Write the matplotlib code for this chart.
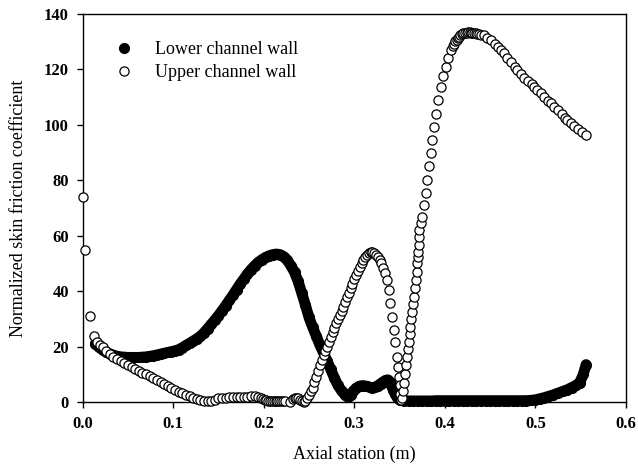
import matplotlib
matplotlib.use("Agg")
import matplotlib.pyplot as plt

# ---------------------------------------------
# Data (x in m, y = normalized Cf)
# ---------------------------------------------
lower_x = [
    0.014, 0.018, 0.022, 0.026, 0.030, 0.034, 0.038, 0.042, 0.046, 0.050,
    0.054, 0.058, 0.062, 0.066, 0.070, 0.074, 0.078, 0.082, 0.086, 0.090,
    0.094, 0.098, 0.102, 0.106, 0.110, 0.114, 0.118, 0.122, 0.126, 0.130,
    0.134, 0.138, 0.142, 0.146, 0.150, 0.154, 0.158, 0.162, 0.166, 0.170,
    0.174, 0.178, 0.182, 0.186, 0.190, 0.194, 0.198, 0.202, 0.206, 0.210,
    0.214, 0.218, 0.222, 0.226, 0.230, 0.234, 0.238, 0.242, 0.246, 0.250,
    0.254, 0.258, 0.262, 0.266, 0.270, 0.274, 0.278, 0.282, 0.286, 0.290,
    0.293, 0.296, 0.299, 0.302, 0.305, 0.308, 0.311, 0.314, 0.317, 0.320,
    0.323, 0.326, 0.329, 0.332, 0.335, 0.337, 0.339, 0.341, 0.343, 0.345,
    0.347, 0.349, 0.351, 0.355, 0.360, 0.365, 0.370, 0.375, 0.380, 0.385,
    0.390, 0.395, 0.400, 0.405, 0.410, 0.415, 0.420, 0.425, 0.430, 0.435,
    0.440, 0.445, 0.450, 0.455, 0.460, 0.465, 0.470, 0.475, 0.480, 0.485,
    0.490, 0.495, 0.500, 0.505, 0.510, 0.515, 0.520, 0.525, 0.530, 0.535,
    0.540, 0.545, 0.549, 0.553, 0.556,
]
lower_cf = [
    21.0, 19.8, 18.8, 18.0, 17.4, 16.9, 16.5, 16.3, 16.2, 16.1,
    16.1, 16.1, 16.1, 16.2, 16.3, 16.5, 16.7, 17.0, 17.3, 17.6,
    17.9, 18.2, 18.5, 18.9, 19.6, 20.4, 21.2, 22.0, 22.8, 23.7,
    25.0, 26.5, 28.0, 29.6, 31.2, 33.0, 34.8, 36.7, 38.6, 40.6,
    42.6, 44.4, 46.2, 47.8, 49.2, 50.4, 51.4, 52.2, 52.8, 53.2,
    53.4, 53.2, 52.5, 51.2, 49.2, 46.8, 43.5, 39.3, 35.0, 30.5,
    27.0, 23.8, 20.6, 17.7, 14.8, 11.8, 8.7, 6.0, 4.0, 2.5,
    1.8, 2.6, 4.0, 5.0, 5.6, 5.9, 5.9, 5.6, 5.3, 5.2,
    5.4, 5.9, 6.6, 7.3, 7.9, 8.0, 7.4, 6.0, 4.4, 3.0,
    1.8, 1.0, 0.6, 0.5, 0.4, 0.4, 0.4, 0.4, 0.4, 0.4,
    0.5, 0.5, 0.5, 0.5, 0.5, 0.5, 0.5, 0.5, 0.5, 0.5,
    0.5, 0.5, 0.5, 0.5, 0.5, 0.5, 0.5, 0.5, 0.5, 0.5,
    0.5, 0.6, 0.8, 1.2, 1.6, 2.1, 2.6, 3.2, 3.8, 4.4,
    5.2, 6.0, 7.0, 10.0, 13.5,
]

upper_x = [
    0.000, 0.003, 0.008, 0.012, 0.016, 0.019, 0.022, 0.026, 0.030, 0.034,
    0.038, 0.042, 0.046, 0.050, 0.054, 0.058, 0.062, 0.066, 0.070, 0.074,
    0.078, 0.082, 0.086, 0.090, 0.094, 0.098, 0.102, 0.106, 0.110, 0.114,
    0.118, 0.122, 0.126, 0.130, 0.134, 0.138, 0.142, 0.146, 0.150, 0.154,
    0.158, 0.162, 0.166, 0.170, 0.174, 0.178, 0.182, 0.186, 0.190, 0.194,
    0.197, 0.199, 0.201, 0.203, 0.205, 0.207, 0.209, 0.211, 0.213, 0.215,
    0.217, 0.219, 0.221, 0.223, 0.2285, 0.232, 0.234, 0.236, 0.238, 0.240,
    0.242, 0.244, 0.246, 0.248, 0.250, 0.252, 0.254, 0.256, 0.258,
    0.260, 0.262, 0.264, 0.266, 0.268, 0.270, 0.272, 0.274, 0.276, 0.278,
    0.280, 0.282, 0.284, 0.286, 0.288, 0.290, 0.292, 0.294, 0.296, 0.298,
    0.300, 0.302, 0.304, 0.306, 0.308, 0.310, 0.312, 0.314, 0.316, 0.318,
    0.320, 0.322, 0.324, 0.326, 0.328, 0.330, 0.332, 0.334, 0.336, 0.338,
    0.340, 0.342, 0.3435, 0.345, 0.347, 0.348, 0.349, 0.350, 0.351, 0.352,
    0.353, 0.354, 0.355, 0.356, 0.357, 0.358, 0.359, 0.360, 0.361, 0.362,
    0.363, 0.364, 0.365, 0.366, 0.367, 0.368, 0.369, 0.3696, 0.370, 0.3705,
    0.371, 0.3714, 0.372, 0.3735, 0.375, 0.3765, 0.3788, 0.3806, 0.3824, 0.3842,
    0.386, 0.3879, 0.3898, 0.3926, 0.3954, 0.3982, 0.401, 0.4038, 0.4065, 0.4085,
    0.410, 0.4115, 0.413, 0.4145, 0.4156, 0.417, 0.419, 0.4205, 0.4225, 0.424,
    0.426, 0.4275, 0.4286, 0.430, 0.432, 0.434, 0.436, 0.438, 0.440, 0.443,
    0.447, 0.451, 0.455, 0.459, 0.4617, 0.465, 0.469, 0.473, 0.477, 0.480,
    0.484, 0.488, 0.492, 0.496, 0.4986, 0.502, 0.506, 0.510, 0.514, 0.517,
    0.521, 0.525, 0.529, 0.533, 0.5355, 0.539, 0.543, 0.547, 0.551, 0.5558,
]
upper_cf = [
    74.0, 55.0, 31.0, 24.0, 21.8, 20.6, 19.8, 18.5, 17.4, 16.4,
    15.5, 14.7, 13.9, 13.2, 12.5, 11.9, 11.2, 10.6, 10.0, 9.4,
    8.8, 8.1, 7.3, 6.6, 5.8, 5.1, 4.4, 3.7, 3.1, 2.5,
    2.0, 1.5, 1.1, 0.7, 0.4, 0.2, 0.2, 0.9, 1.3, 1.5,
    1.6, 1.7, 1.8, 1.8, 1.9, 1.9, 1.9, 2.0, 2.0, 1.8,
    1.4, 1.1, 0.8, 0.6, 0.5, 0.4, 0.4, 0.4, 0.4, 0.4,
    0.4, 0.3, 0.3, 0.3, 0.0, 1.1, 1.4, 1.5, 1.3, 0.9,
    0.5, 0.1, 0.4, 1.5, 2.5, 3.8, 5.2, 7.2, 9.2,
    11.3, 13.5, 15.2, 16.8, 18.4, 20.0, 21.7, 23.4, 25.1, 26.8,
    28.4, 30.0, 31.4, 32.9, 34.4, 36.1, 37.8, 39.5, 41.1, 42.7,
    44.3, 45.8, 47.3, 48.7, 50.0, 51.2, 52.3, 53.2, 53.8, 54.1,
    54.1, 53.8, 53.2, 52.4, 51.4, 50.0, 48.4, 46.4, 44.0, 40.5,
    35.6, 30.5, 26.0, 21.5, 16.4, 12.5, 9.0, 6.0, 3.0, 0.8,
    1.5, 4.0, 6.7, 10.0, 13.2, 16.4, 19.0, 21.7, 24.4, 27.0,
    29.8, 32.5, 35.3, 38.0, 41.0, 44.0, 47.0, 50.0, 52.4, 54.2,
    56.7, 59.5, 62.0, 64.5, 66.9, 71.0, 75.3, 80.0, 85.0, 89.8,
    94.5, 99.2, 104.0, 109.0, 113.8, 117.5, 121.0, 124.2, 127.0, 128.3,
    129.2, 130.1, 130.8, 131.4, 131.8, 132.3, 132.7, 133.0, 133.2, 133.3,
    133.4, 133.4, 133.3, 133.2, 133.1, 133.0, 132.9, 132.8, 132.6, 132.3,
    131.5, 130.5, 129.3, 128.0, 127.0, 125.8, 124.2, 122.6, 121.0, 119.8,
    118.4, 117.1, 115.8, 114.6, 113.8, 112.7, 111.4, 110.0, 108.8, 107.8,
    106.5, 105.2, 103.9, 102.6, 101.8, 100.7, 99.5, 98.4, 97.4, 96.4,
]

x_ticks = [0.0, 0.1, 0.2, 0.3, 0.4, 0.5, 0.6]
y_ticks = [0, 20, 40, 60, 80, 100, 120, 140]

# ---------------------------------------------
# Style
# ---------------------------------------------
plt.rcParams.update({
    'font.family': 'Liberation Serif',
    'font.size': 13,
    'axes.linewidth': 1.0,
})

fig = plt.figure(figsize=(6.38, 4.68), dpi=100)
ax = fig.add_axes([0.1296, 0.141, 0.8514, 0.829])

# lower wall: markers are so dense in the original they merge into a band
ax.plot(lower_x, lower_cf, color='black', linewidth=7.8,
        solid_capstyle='round', solid_joinstyle='round', clip_on=False, zorder=2)
ax.plot(lower_x, lower_cf, linestyle='none', marker='o', markersize=7.2,
        markerfacecolor='black', markeredgecolor='black', markeredgewidth=0.8,
        clip_on=False, label='Lower channel wall', zorder=3)
ax.plot(upper_x, upper_cf, linestyle='none', marker='o', markersize=6.6,
        markerfacecolor='white', markeredgecolor='black', markeredgewidth=0.9,
        clip_on=False, label='Upper channel wall', zorder=4)

ax.set_xlim(0, 0.6)
ax.set_ylim(0, 140)
ax.set_xticks(x_ticks)
ax.set_xticklabels([f'{t:.1f}' for t in x_ticks], fontweight='bold', fontsize=12)
ax.set_yticks(y_ticks)
ax.set_yticklabels([str(t) for t in y_ticks], fontweight='bold', fontsize=12)
ax.tick_params(direction='out', length=4, width=1.0, pad=6, top=False, right=False)

ax.set_xlabel('Axial station (m)', fontsize=13, labelpad=10)
ax.set_ylabel('Normalized skin friction coefficient', fontsize=13, labelpad=12)

ax.legend(loc='upper left', bbox_to_anchor=(0.013, 0.972), frameon=False,
          fontsize=13, handletextpad=0.7, labelspacing=0.35, markerscale=1.0)

fig.savefig('out.png', dpi=100)
